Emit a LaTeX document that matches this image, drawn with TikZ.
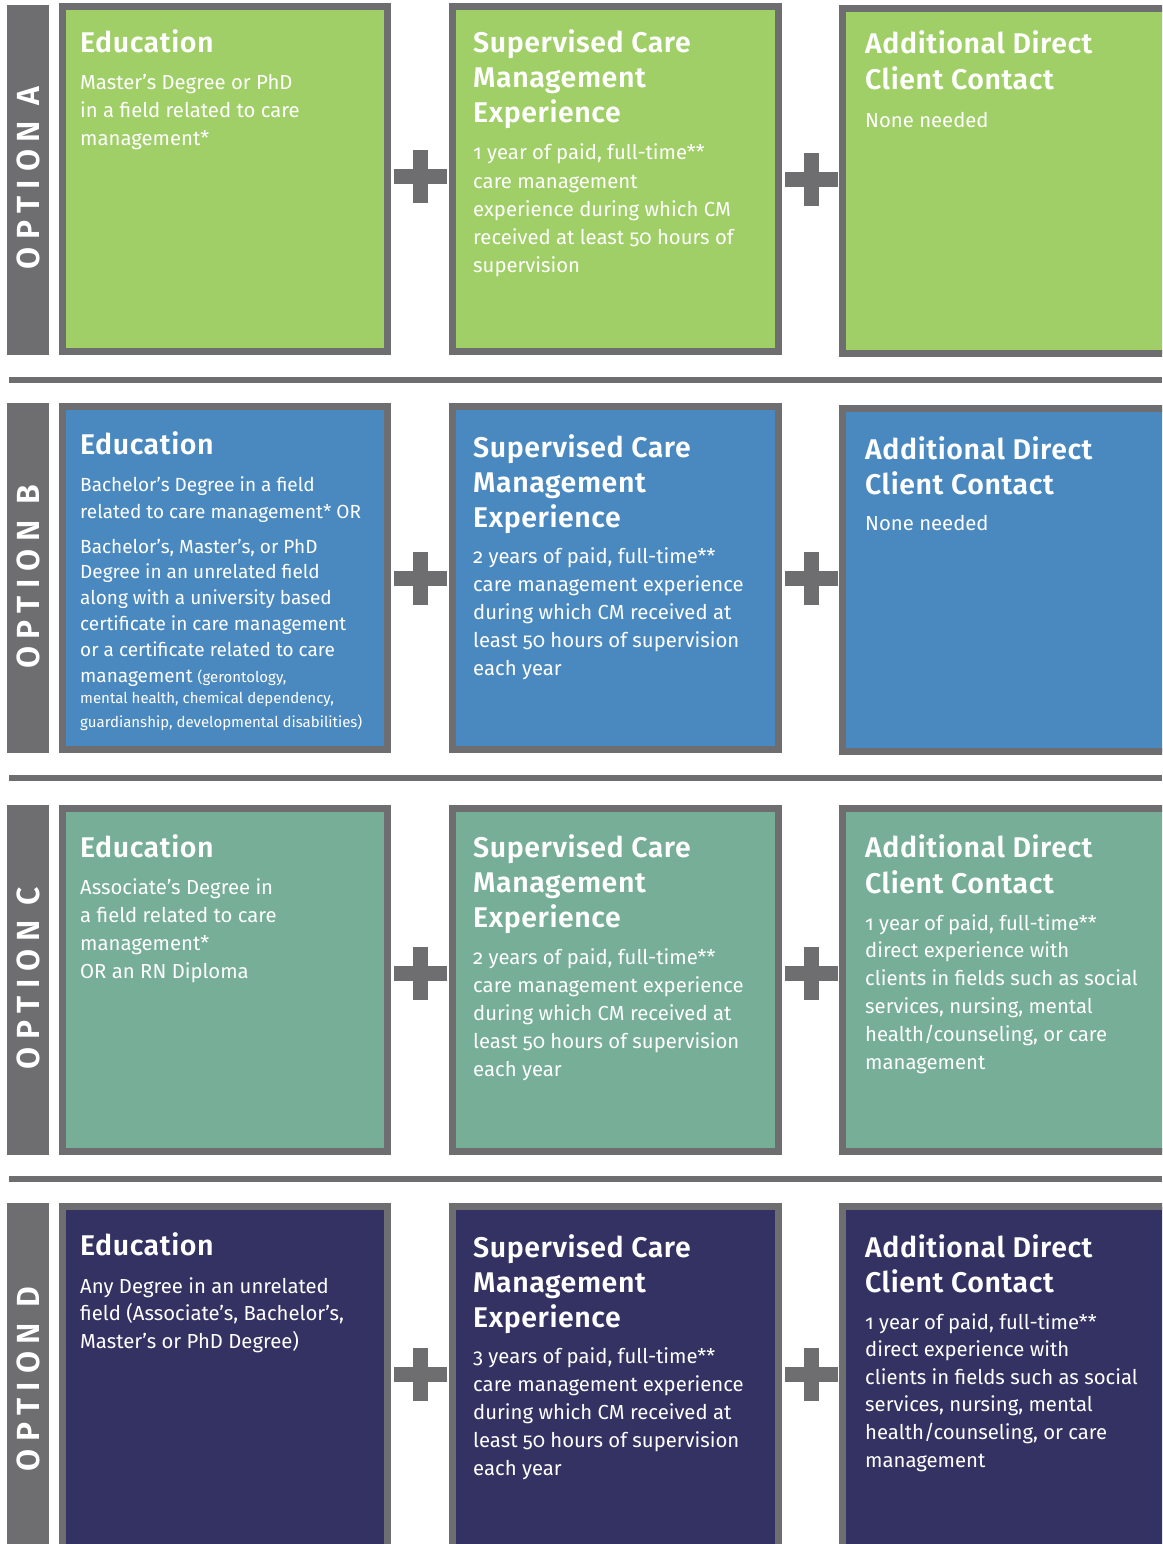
\documentclass[tikz,border=0pt]{standalone}
\usepackage{fontspec}
\setmainfont{Fira Sans}[Numbers=OldStyle]
\newfontfamily\cmheadfont{Fira Sans SemiBold}[Numbers=OldStyle]
\definecolor{cmgray}{HTML}{6E6E70}
\definecolor{cmgreen}{HTML}{A0CF67}
\definecolor{cmblue}{HTML}{4A89C0}
\definecolor{cmteal}{HTML}{76AE97}
\definecolor{cmnavy}{HTML}{333263}
\newcommand\txtblock[6]{%
  \foreach \t [count=\i from 0] in {#6}
    \node[#5] (#1-\i) at (#2, {#3+#4*\i}) {\t};}
\begin{document}
\begin{tikzpicture}[x=1pt,y=-1pt,
  cmbox/.style={draw=cmgray, line width=7pt, inner sep=0pt, outer sep=0pt, anchor=north west},
  optbar/.style={fill=cmgray, inner sep=0pt, outer sep=0pt, anchor=north west, minimum width=42pt},
  optlabel/.style={rotate=90, text=white, inner sep=0pt, font=\fontsize{32}{32}\selectfont\cmheadfont\addfontfeature{LetterSpace=24}},
  sepline/.style={draw=cmgray, line width=6.5pt},
  head/.style={text=white, inner sep=0pt, anchor=base west, font=\fontsize{28.5}{35}\selectfont\cmheadfont\addfontfeature{LetterSpace=2}},
  body/.style={text=white, inner sep=0pt, anchor=base west, font=\fontsize{20.3}{28}\selectfont},
  bodyb/.style={text=white, inner sep=0pt, anchor=base west, font=\fontsize{19}{26}\selectfont},
  smallbody/.style={text=white, inner sep=0pt, anchor=base west, font=\fontsize{15}{18}\selectfont},
  plussign/.pic={\fill[cmgray] (-26.5,-7.5) rectangle (26.5,7.5); \fill[cmgray] (-7.5,-26.5) rectangle (7.5,26.5);}
]
\useasboundingbox (0,0) rectangle (1162,1544);
\clip (0,0) rectangle (1162,1544);
\fill[white] (0,0) rectangle (1162,1544);

% option bars
\node[optbar, minimum height=350pt] (barA) at (7,5) {};
\node[optbar, minimum height=350pt] (barB) at (7,403) {};
\node[optbar, minimum height=350pt] (barC) at (7,805) {};
\node[optbar, minimum height=360pt] (barD) at (7,1203) {};
\node[optlabel] (optA) at (28,178) {OPTION A};
\node[optlabel] (optB) at (28,577) {OPTION B};
\node[optlabel] (optC) at (28,978) {OPTION C};
\node[optlabel] (optD) at (28,1379) {OPTION D};

% boxes row A
\node[cmbox, fill=cmgreen, minimum width=325pt, minimum height=345pt] (A1) at (62.5,6.5) {};
\node[cmbox, fill=cmgreen, minimum width=326pt, minimum height=345pt] (A2) at (452.5,6.5) {};
\node[cmbox, fill=cmgreen, minimum width=340pt, minimum height=345pt] (A3) at (842.5,8.5) {};
% row B
\node[cmbox, fill=cmblue, minimum width=325pt, minimum height=343pt] (B1) at (62.5,406.5) {};
\node[cmbox, fill=cmblue, minimum width=326pt, minimum height=343pt] (B2) at (452.5,406.5) {};
\node[cmbox, fill=cmblue, minimum width=340pt, minimum height=343pt] (B3) at (842.5,408.5) {};
% row C
\node[cmbox, fill=cmteal, minimum width=325pt, minimum height=343pt] (C1) at (62.5,808.5) {};
\node[cmbox, fill=cmteal, minimum width=326pt, minimum height=343pt] (C2) at (452.5,808.5) {};
\node[cmbox, fill=cmteal, minimum width=340pt, minimum height=343pt] (C3) at (842.5,808.5) {};
% row D
\node[cmbox, fill=cmnavy, minimum width=325pt, minimum height=360pt] (D1) at (62.5,1206.5) {};
\node[cmbox, fill=cmnavy, minimum width=326pt, minimum height=360pt] (D2) at (452.5,1206.5) {};
\node[cmbox, fill=cmnavy, minimum width=340pt, minimum height=360pt] (D3) at (842.5,1206.5) {};

% separators
\coordinate (sAl) at (9,380); \coordinate (sAr) at (1162,380);
\coordinate (sBl) at (9,778); \coordinate (sBr) at (1162,778);
\coordinate (sCl) at (9,1179); \coordinate (sCr) at (1162,1179);
\draw[sepline] (sAl) -- (sAr);
\draw[sepline] (sBl) -- (sBr);
\draw[sepline] (sCl) -- (sCr);

% plus signs
\pic (pA1) at (420,176) {plussign};
\pic (pA2) at (811,179) {plussign};
\pic (pB1) at (420,578) {plussign};
\pic (pB2) at (811,578) {plussign};
\pic (pC1) at (420,973) {plussign};
\pic (pC2) at (811,973) {plussign};
\pic (pD1) at (420,1374) {plussign};
\pic (pD2) at (811,1374) {plussign};

% ---- Row A text
\txtblock{hA1}{80}{53}{35}{head}{{Education}}
\txtblock{tA1}{80}{90}{28}{body}{{Master’s Degree or PhD},{in a field related to care},{management*}}
\txtblock{hA2}{473}{53}{35}{head}{{Supervised Care},{Management},{Experience}}
\txtblock{tA2}{473}{160}{28}{body}{{1 year of paid, full-time**},{care management},{experience during which CM},{received at least 50 hours of},{supervision}}
\txtblock{hA3}{865}{54}{36}{head}{{Additional Direct},{Client Contact}}
\txtblock{tA3}{865}{128}{28}{body}{{None needed}}

% ---- Row B text
\txtblock{hB1}{80}{454}{35}{head}{{Education}}
\txtblock{tB1}{80}{491}{27}{bodyb}{{Bachelor’s Degree in a field},{related to care management* OR}}
\txtblock{uB1}{80}{553}{25.8}{bodyb}{{Bachelor’s, Master’s, or PhD},{Degree in an unrelated field},{along with a university based},{certificate in care management},{or a certificate related to care},{management {\fontsize{15}{18}\selectfont (gerontology,}}}
\txtblock{vB1}{80}{703}{24}{smallbody}{{mental health, chemical dependency,},{guardianship, developmental disabilities)}}
\txtblock{hB2}{473}{457}{35}{head}{{Supervised Care},{Management},{Experience}}
\txtblock{tB2}{473}{563}{28}{body}{{2 years of paid, full-time**},{care management experience},{during which CM received at},{least 50 hours of supervision},{each year}}
\txtblock{hB3}{865}{459}{35}{head}{{Additional Direct},{Client Contact}}
\txtblock{tB3}{865}{530}{28}{body}{{None needed}}

% ---- Row C text
\txtblock{hC1}{80}{857}{35}{head}{{Education}}
\txtblock{tC1}{80}{894}{28}{body}{{Associate’s Degree in},{a field related to care},{management*},{OR an RN Diploma}}
\txtblock{hC2}{473}{857}{35}{head}{{Supervised Care},{Management},{Experience}}
\txtblock{tC2}{473}{964}{28}{body}{{2 years of paid, full-time**},{care management experience},{during which CM received at},{least 50 hours of supervision},{each year}}
\txtblock{hC3}{865}{857}{36}{head}{{Additional Direct},{Client Contact}}
\txtblock{tC3}{865}{930}{27.8}{body}{{1 year of paid, full-time**},{direct experience with},{clients in fields such as social},{services, nursing, mental},{health/counseling, or care},{management}}

% ---- Row D text
\txtblock{hD1}{80}{1255}{35}{head}{{Education}}
\txtblock{tD1}{80}{1293}{27.5}{body}{{Any Degree in an unrelated},{field (Associate’s, Bachelor’s,},{Master’s or PhD Degree)}}
\txtblock{hD2}{473}{1257}{35}{head}{{Supervised Care},{Management},{Experience}}
\txtblock{tD2}{473}{1363}{28}{body}{{3 years of paid, full-time**},{care management experience},{during which CM received at},{least 50 hours of supervision},{each year}}
\txtblock{hD3}{865}{1257}{35}{head}{{Additional Direct},{Client Contact}}
\txtblock{tD3}{865}{1329}{27.6}{body}{{1 year of paid, full-time**},{direct experience with},{clients in fields such as social},{services, nursing, mental},{health/counseling, or care},{management}}
\end{tikzpicture}
\end{document}
